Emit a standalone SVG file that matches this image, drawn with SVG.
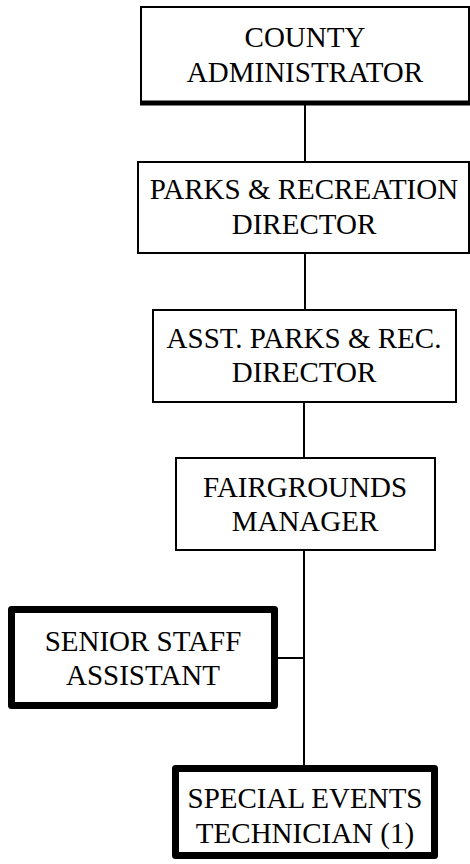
<svg xmlns="http://www.w3.org/2000/svg" width="470" height="864" viewBox="0 0 470 864">
  <style>
    .box { fill: #ffffff; stroke: #000000; stroke-width: 2; }
    .heavy { fill: #ffffff; stroke: #000000; stroke-width: 7; stroke-linejoin: round; }
    .lbl { font-family: "Liberation Serif", "Times New Roman", serif; font-size: 29px; fill: #000000; text-anchor: middle; }
    .wire { stroke: #000000; stroke-width: 2; fill: none; }
  </style>
  <rect width="470" height="864" fill="#ffffff"/>

  <!-- reporting lines -->
  <g id="connectors">
    <line class="wire" x1="305" y1="103" x2="305" y2="162"/>
    <line class="wire" x1="305" y1="253" x2="305" y2="310"/>
    <line class="wire" x1="304" y1="402" x2="304" y2="458"/>
    <line class="wire" x1="304" y1="550" x2="304" y2="766"/>
    <line class="wire" x1="278" y1="658" x2="304" y2="658"/>
  </g>

  <g id="county-administrator">
    <rect class="box" x="141" y="7" width="328" height="96"/>
    <line x1="140" y1="103" x2="470" y2="103" stroke="#000000" stroke-width="5"/>
    <text class="lbl" x="305" y="47">COUNTY</text>
    <text class="lbl" x="305" y="82">ADMINISTRATOR</text>
  </g>

  <g id="parks-director">
    <rect class="box" x="138" y="162" width="331" height="91"/>
    <text class="lbl" x="304" y="199">PARKS &amp; RECREATION</text>
    <text class="lbl" x="304" y="234">DIRECTOR</text>
  </g>

  <g id="asst-director">
    <rect class="box" x="153" y="310" width="303" height="92"/>
    <text class="lbl" x="304" y="348">ASST. PARKS &amp; REC.</text>
    <text class="lbl" x="304" y="382">DIRECTOR</text>
  </g>

  <g id="fairgrounds-manager">
    <rect class="box" x="176" y="458" width="259" height="92"/>
    <text class="lbl" x="305" y="497">FAIRGROUNDS</text>
    <text class="lbl" x="305" y="531">MANAGER</text>
  </g>

  <g id="senior-staff-assistant">
    <rect class="heavy" x="11.5" y="609.5" width="263" height="96"/>
    <text class="lbl" x="143" y="651">SENIOR STAFF</text>
    <text class="lbl" x="143" y="685">ASSISTANT</text>
  </g>

  <g id="special-events-technician">
    <rect class="heavy" x="175.5" y="768.5" width="259" height="87"/>
    <text class="lbl" x="305" y="808">SPECIAL EVENTS</text>
    <text class="lbl" x="305" y="843">TECHNICIAN (1)</text>
  </g>
</svg>
